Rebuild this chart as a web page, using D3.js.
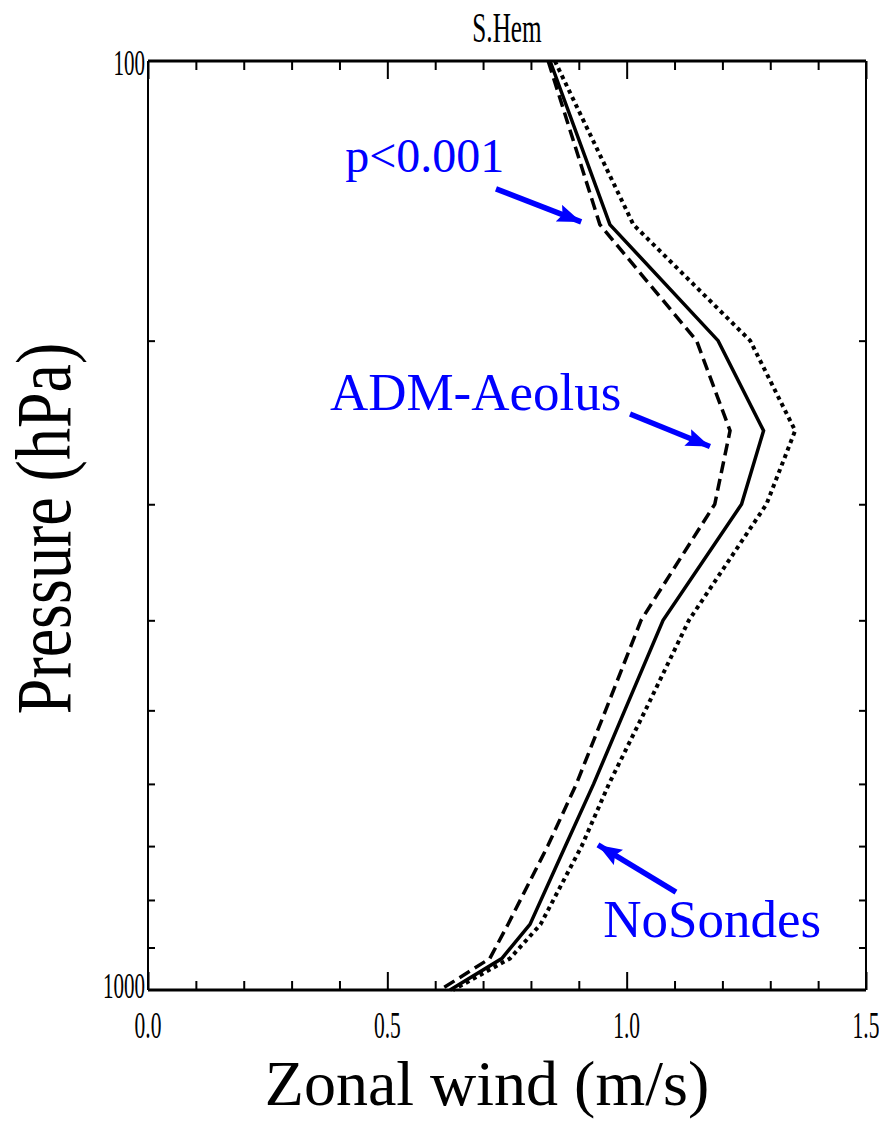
<!DOCTYPE html>
<html>
<head>
<meta charset="utf-8">
<script src="https://cdn.jsdelivr.net/npm/d3@7"></script>
<style>
  body { margin: 0; background: #fff; }
  text { font-family: 'Liberation Serif', 'Times New Roman', serif; }
</style>
</head>
<body>
<script>
// pressure levels (hPa) and zonal wind profiles (m/s)
var levels = [100, 150, 200, 250, 300, 400, 500, 600, 700, 850, 925, 1000];
var solidWind = [0.840, 0.965, 1.191, 1.286, 1.240, 1.076, 0.996, 0.931, 0.872, 0.798, 0.739, 0.631];
var dashedWind = [0.836, 0.944, 1.146, 1.216, 1.184, 1.030, 0.956, 0.895, 0.835, 0.752, 0.714, 0.610];
var dottedWind = [0.850, 1.014, 1.258, 1.352, 1.292, 1.130, 1.039, 0.963, 0.906, 0.820, 0.756, 0.637];

var xMajor = [0, 0.5, 1.0, 1.5];
var xMinor = [0.1, 0.2, 0.3, 0.4, 0.6, 0.7, 0.8, 0.9, 1.1, 1.2, 1.3, 1.4];
var xLabels = ['0.0', '0.5', '1.0', '1.5'];
var yMinor = [200, 300, 400, 500, 600, 700, 800, 900];
var yLabels = [100, 1000];

var width = 879, height = 1123;
var margin = {left: 148, right: 13, top: 61, bottom: 133};
var w = width - margin.left - margin.right;
var h = height - margin.top - margin.bottom;

var svg = d3.select('body')
  .append('svg')
  .attr('width', width)
  .attr('height', height);

var x = d3.scaleLinear().domain([0, 1.5]).range([0, w]);
var y = d3.scaleLog().domain([100, 1000]).range([0, h]);

var g = svg.append('g')
  .attr('transform', 'translate(' + margin.left + ',' + margin.top + ')');

// arrow head
svg.append('defs')
  .append('marker')
  .attr('id', 'head')
  .attr('markerUnits', 'userSpaceOnUse')
  .attr('viewBox', '0 0 24 18')
  .attr('refX', 24)
  .attr('refY', 9)
  .attr('markerWidth', 24)
  .attr('markerHeight', 18)
  .attr('orient', 'auto')
  .append('path')
  .attr('d', 'M0,0L24,9L0,18L4,9Z')
  .attr('fill', '#0000ff');

// profiles
var line = d3.line()
  .x(function(d) { return x(d[0]); })
  .y(function(d) { return y(d[1]); });

var series = [
  {values: solidWind, dash: null, sw: 3.5},
  {values: dashedWind, dash: '12,6', sw: 3.5},
  {values: dottedWind, dash: '4,4', sw: 4}
];

g.selectAll('path.profile')
  .data(series)
  .enter()
  .append('path')
  .classed('profile', true)
  .attr('fill', 'none')
  .attr('stroke', '#000')
  .attr('stroke-width', function(d) { return d.sw; })
  .attr('stroke-dasharray', function(d) { return d.dash; })
  .attr('stroke-linejoin', 'miter')
  .attr('d', function(d) {
    return line(d.values.map(function(v, i) { return [v, levels[i]]; }));
  });

// ticks, all pointing inward
function tickAxis(axis, size, vals, tr) {
  g.append('g')
    .attr('transform', tr)
    .call(axis.tickValues(vals).tickSize(size).tickFormat(''))
    .call(function(s) {
      s.select('.domain').remove();
      s.selectAll('.tick line').attr('stroke', '#000').attr('stroke-width', 2);
    });
}
tickAxis(d3.axisBottom(x), -9, xMinor, 'translate(0,' + h + ')');
tickAxis(d3.axisBottom(x), -18, xMajor, 'translate(0,' + h + ')');
tickAxis(d3.axisTop(x), -9, xMinor, 'translate(0,0)');
tickAxis(d3.axisTop(x), -18, xMajor, 'translate(0,0)');
tickAxis(d3.axisLeft(y), -7, yMinor, 'translate(0,0)');
tickAxis(d3.axisRight(y), -7, yMinor, 'translate(' + w + ',0)');

// frame
g.append('line').attr('x1', 0).attr('x2', w).attr('y1', h).attr('y2', h)
  .attr('stroke', '#000').attr('stroke-width', 3);
g.append('line').attr('x1', 0).attr('x2', w).attr('y1', 0).attr('y2', 0)
  .attr('stroke', '#000').attr('stroke-width', 3);
g.append('line').attr('x1', 0).attr('x2', 0).attr('y1', 0).attr('y2', h)
  .attr('stroke', '#000').attr('stroke-width', 2);
g.append('line').attr('x1', w).attr('x2', w).attr('y1', 0).attr('y2', h)
  .attr('stroke', '#000').attr('stroke-width', 2);

// tick labels (narrow glyphs as in the original)
g.selectAll('text.xlab')
  .data(xMajor)
  .enter()
  .append('text')
  .attr('transform', function(d) {
    return 'translate(' + x(d) + ',' + (h + 48) + ') scale(0.58,1)';
  })
  .attr('text-anchor', 'middle')
  .style('font-size', '37px')
  .text(function(d, i) { return xLabels[i]; });

g.selectAll('text.ylab')
  .data(yLabels)
  .enter()
  .append('text')
  .attr('transform', function(d, i) {
    return 'translate(-3,' + (y(d) + (i === 0 ? 14 : 8)) + ') scale(0.6,1)';
  })
  .attr('text-anchor', 'end')
  .style('font-size', '35px')
  .text(function(d) { return d; });

// title
svg.append('text')
  .attr('transform', 'translate(' + (margin.left + w / 2) + ',42) scale(0.6,1)')
  .attr('text-anchor', 'middle')
  .style('font-size', '42px')
  .text('S.Hem');

// axis titles
svg.append('text')
  .attr('transform', 'translate(' + (margin.left + w / 2 - 20) + ',1105)')
  .attr('text-anchor', 'middle')
  .style('font-size', '64px')
  .text('Zonal wind (m/s)');

svg.append('text')
  .attr('transform', 'translate(70,' + (margin.top + h / 2 + 3) + ') rotate(-90) scale(1,1.22)')
  .attr('text-anchor', 'middle')
  .style('font-size', '64px')
  .text('Pressure (hPa)');

// annotations, placed in data coordinates
var notes = [
  {text: 'p<0.001', tx: 0.412, tp: 131.7, x0: 0.727, p0: 137.3, x1: 0.905, p1: 149},
  {text: 'ADM-Aeolus', tx: 0.380, tp: 237.5, x0: 1.007, p0: 239.9, x1: 1.174, p1: 260},
  {text: 'NoSondes', tx: 0.951, tp: 877, x0: 1.103, p0: 784.6, x1: 0.940, p1: 698}
];

g.selectAll('text.note')
  .data(notes)
  .enter()
  .append('text')
  .attr('x', function(d) { return x(d.tx); })
  .attr('y', function(d) { return y(d.tp); })
  .attr('fill', '#0000ff')
  .style('font-size', function(d, i) { return i === 0 ? '48px' : '53px'; })
  .text(function(d) { return d.text; });

g.selectAll('line.arrow')
  .data(notes)
  .enter()
  .append('line')
  .attr('x1', function(d) { return x(d.x0); })
  .attr('y1', function(d) { return y(d.p0); })
  .attr('x2', function(d) { return x(d.x1); })
  .attr('y2', function(d) { return y(d.p1); })
  .attr('stroke', '#0000ff')
  .attr('stroke-width', 5.5)
  .attr('marker-end', 'url(#head)');
</script>
</body>
</html>
